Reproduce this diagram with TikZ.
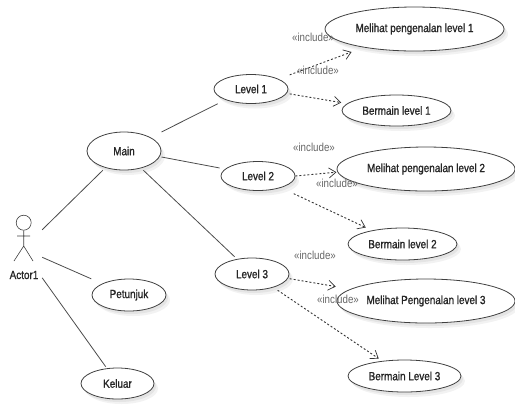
\documentclass[tikz,border=0pt]{standalone}
\usepackage{fontspec}
\setmainfont[FakeStretch=0.84]{Liberation Sans}
\newfontfamily\ucbold[FakeStretch=0.84,FakeBold=1.2]{Liberation Sans}
\usetikzlibrary{shapes.geometric,arrows.meta,shadows}
\tikzset{
  uc/.style 2 args={ellipse,draw=black!75,line width=0.8bp,fill=white,inner sep=0pt,
    minimum width=#1bp,minimum height=#2bp,font=\ucbold\fontsize{11.8bp}{13bp}\selectfont,text=black!85,
    drop shadow={shadow xshift=2bp,shadow yshift=-3bp,fill=black,opacity=0.06},
    drop shadow={shadow xshift=4bp,shadow yshift=-5bp,fill=black,opacity=0.05}},
  assoc/.style={draw=black!70,line width=0.8bp},
  incl/.style={draw=black!80,line width=0.9bp,dash pattern=on 2bp off 2bp,-{Straight Barb[length=7bp,width=10bp,line width=0.7bp]}},
  stereo/.style={inner sep=0pt,text=black!60,font=\fontsize{11.6bp}{13bp}\selectfont},
  actorbox/.style={inner sep=0pt,minimum width=36bp,minimum height=70bp},
  actorname/.style={inner sep=0pt,text=black!85,font=\ucbold\fontsize{11.8bp}{13bp}\selectfont},
  actorline/.style={draw=black!75,line width=0.6bp}
}
\begin{document}
\begin{tikzpicture}[x=1bp,y=-1bp]
\useasboundingbox (0,0) rectangle (515,405);
% use cases
\node[uc={74}{38}] (main) at (124,151) {Main};
\node[uc={74}{29}] (lv1) at (251,89) {Level 1};
\node[uc={74}{29}] (lv2) at (258,176) {Level 2};
\node[uc={74}{32}] (lv3) at (252,274) {Level 3};
\node[uc={179}{44}] (m1) at (414.5,29) {Melihat pengenalan level 1};
\node[uc={109}{31}] (b1) at (396.5,110.5) {Bermain level 1};
\node[uc={178}{44}] (m2) at (426,169) {Melihat pengenalan level 2};
\node[uc={109}{32}] (b2) at (402.5,244) {Bermain level 2};
\node[uc={178}{44}] (m3) at (426,301) {Melihat Pengenalan level 3};
\node[uc={113}{32}] (b3) at (404.5,376) {Bermain Level 3};
\node[uc={74}{32}] (pet) at (129,295) {Petunjuk};
\node[uc={73}{31}] (kel) at (117.5,383.5) {Keluar};
% actor
\node[actorbox] (actor) at (24,245) {};
\node[circle,draw=black!75,line width=0.6bp,minimum size=15bp,inner sep=0pt] (head) at (23.7,222.7) {};
\coordinate (hip) at (23.7,246);
\coordinate (armL) at (17,236);
\coordinate (armR) at (30,236);
\coordinate (legL) at (14,261);
\coordinate (legR) at (33,261);
\draw[actorline] (head.south) -- (hip) -- (legL) (hip) -- (legR) (armL) -- (armR);
\node[actorname] (actorlabel) at (24,275) {Actor1};
% associations
\draw[assoc,shorten >=3.5bp] (actor.40) -- (main.222);
\draw[assoc,shorten >=11.8bp] (actor.-34) -- (pet.157);
\draw[assoc,shorten >=1.9bp] (actor.-61) -- (kel.125);
\draw[assoc,shorten <=12.2bp,shorten >=8.6bp] (main.27) -- (lv1.203);
\draw[assoc,shorten <=1.8bp,shorten >=5.5bp] (main.-9) -- (lv2.168);
\draw[assoc,shorten <=3bp,shorten >=3.3bp] (main.-45) -- (lv3.135);
% includes
\draw[incl,shorten <=11.8bp,shorten >=13bp] (lv1.20) -- (m1.200);
\draw[incl,shorten <=3bp,shorten >=5.9bp] (lv1.-7.5) -- (b1.172);
\draw[incl,shorten >=1bp] (lv2.0) -- (m2.182.5);
\draw[incl,shorten <=14bp,shorten >=6.8bp] (lv2.-27) -- (b2.156);
\draw[incl,shorten <=1.7bp,shorten >=14.9bp] (lv3.-7.7) -- (m3.171);
\draw[incl,shorten <=5bp,shorten >=4.1bp] (lv3.-32.6) -- (b3.146.3);
% stereotypes
\node[stereo] (s1) at (313,37) {«include»};
\node[stereo] (s2) at (318,70) {«include»};
\node[stereo] (s3) at (314,147) {«include»};
\node[stereo] (s4) at (337,183) {«include»};
\node[stereo] (s5) at (315,255) {«include»};
\node[stereo] (s6) at (338,299) {«include»};
\end{tikzpicture}
\end{document}
